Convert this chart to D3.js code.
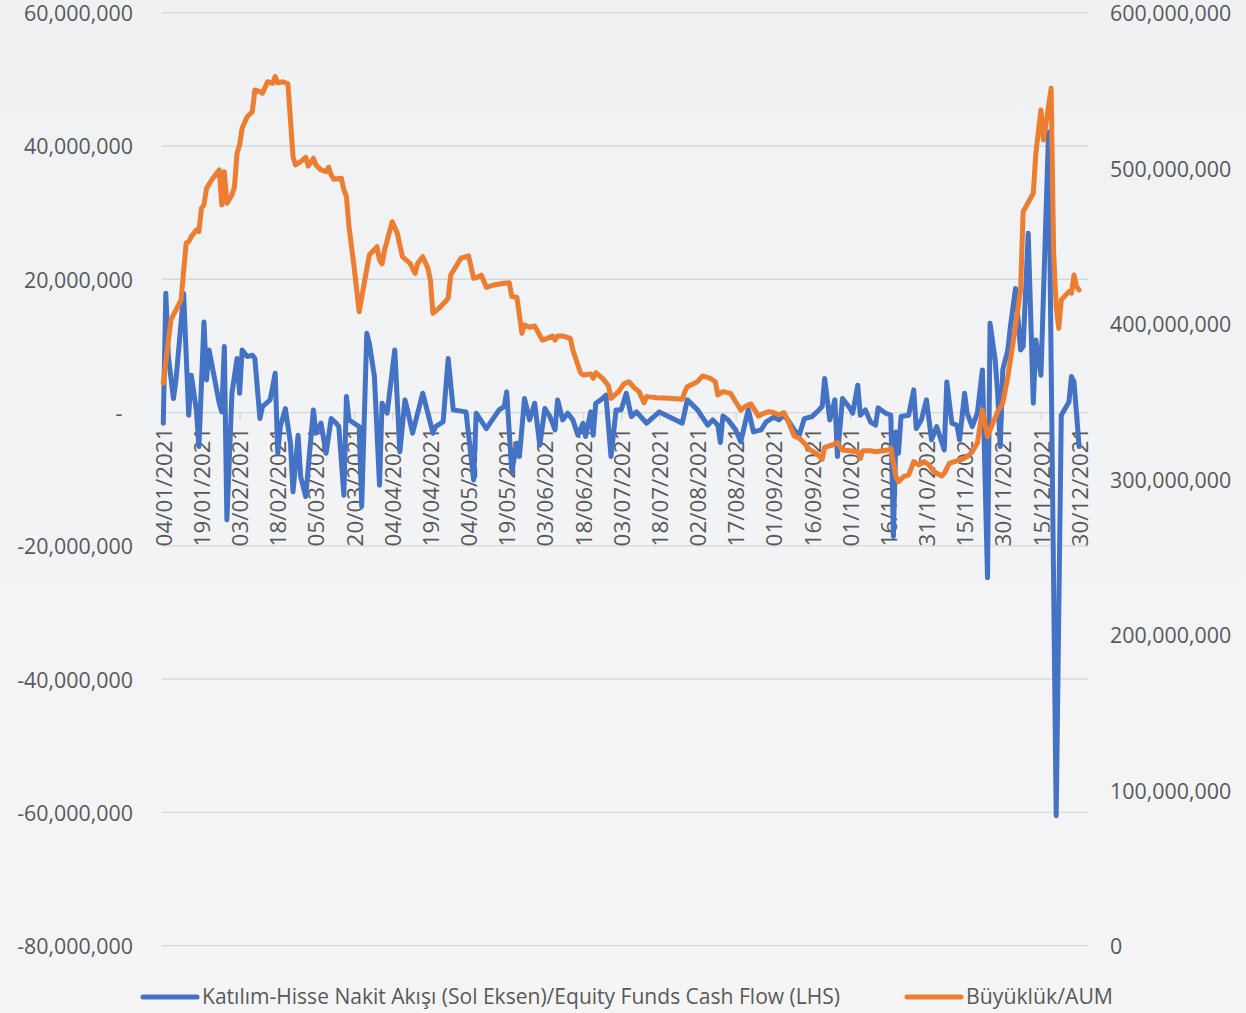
<!DOCTYPE html>
<html>
<head>
<meta charset="utf-8">
<script src="https://cdn.jsdelivr.net/npm/d3@7"></script>
<style>
	body { margin: 0; background: #f2f3f5; }
	svg { display: block; font-family: "Open Sans", sans-serif; }
</style>
</head>
<body>
<svg width="1246" height="1013"></svg>
<script>
// Katılım-Hisse nakit akışı, milyon TL (sol eksen)
const flowSeries = [
	["04/01", -1.6], ["05/01", 17.9], ["06/01", 8.4], ["08/01", 2.1], ["09/01", 4.9], ["12/01", 17.9],
	["14/01", -0.4], ["15/01", 5.6], ["17/01", 0.4], ["18/01", -5.1], ["20/01", 13.6], ["21/01", 4.9],
	["22/01", 9.4], ["24/01", 5.4], ["26/01", 1.4], ["27/01", 0.1], ["28/01", 9.9], ["29/01", -16.1],
	["31/01", 2.9], ["02/02", 8.1], ["03/02", 2.9], ["04/02", 9.4], ["06/02", 8.4], ["08/02", 8.6],
	["09/02", 8.1], ["11/02", -0.9], ["12/02", 0.9], ["15/02", 1.9], ["17/02", 5.9], ["18/02", -6.1],
	["19/02", -2.1], ["21/02", 0.6], ["23/02", -4.6], ["24/02", -11.9], ["26/02", -3.4], ["27/02", -9.6],
	["01/03", -12.6], ["04/03", 0.4], ["05/03", -3.1], ["07/03", -1.6], ["09/03", -6.1], ["11/03", -0.9],
	["13/03", -1.6], ["14/03", -2.1], ["16/03", -12.4], ["17/03", 2.4], ["18/03", -1.1], ["20/03", -1.6],
	["22/03", -2.1], ["23/03", -14.1], ["25/03", 11.9], ["26/03", 10.4], ["28/03", 5.4], ["30/03", -10.9],
	["31/03", 1.4], ["02/04", -0.1], ["05/04", 9.4], ["07/04", -5.9], ["09/04", 1.9], ["10/04", 0.4],
	["12/04", -3.1], ["16/04", 2.9], ["18/04", -0.1], ["20/04", -3.1], ["21/04", -2.1], ["24/04", -1.4],
	["26/04", 8.1], ["28/04", 0.4], ["03/05", 0.1], ["06/05", -10.1], ["07/05", -0.1], ["11/05", -2.4],
	["16/05", 0.4], ["18/05", 0.9], ["19/05", 3.1], ["21/05", -8.9], ["23/05", -4.6], ["24/05", -6.6],
	["26/05", 2.1], ["28/05", -1.1], ["30/05", 1.4], ["01/06", -4.9], ["03/06", 0.6], ["05/06", -0.6],
	["07/06", -2.6], ["08/06", 1.9], ["10/06", -1.1], ["12/06", -0.1], ["14/06", -1.1], ["16/06", -3.4],
	["18/06", -1.6], ["19/06", -3.6], ["21/06", 0.1], ["22/06", -3.4], ["23/06", 1.4], ["25/06", 1.9],
	["27/06", 2.6], ["29/06", -6.6], ["01/07", 0.4], ["03/07", 0.4], ["05/07", 2.9], ["07/07", -0.6],
	["09/07", 0.1], ["13/07", -1.6], ["18/07", 0.1], ["27/07", -1.6], ["29/07", 1.9], ["02/08", 0.4],
	["06/08", -1.9], ["08/08", -1.1], ["10/08", -1.9], ["11/08", -4.5], ["12/08", -0.5], ["14/08", -1.1],
	["17/08", -2.6], ["19/08", -4.4], ["21/08", -1.1], ["22/08", 0.4], ["24/08", -2.9], ["27/08", -2.6],
	["29/08", -1.4], ["01/09", -0.7], ["03/09", -1.1], ["05/09", -0.4], ["07/09", -1.4], ["09/09", -2.6],
	["11/09", -3.4], ["13/09", -0.9], ["16/09", -0.6], ["18/09", 0.1], ["20/09", 0.9], ["21/09", 5.1],
	["23/09", -1.1], ["25/09", 1.9], ["26/09", -6.6], ["28/09", 2.1], ["01/10", 0.6], ["02/10", -0.1],
	["04/10", 4.1], ["05/10", -0.4], ["07/10", 0.4], ["09/10", -1.4], ["11/10", -1.9], ["12/10", 0.7],
	["15/10", -0.1], ["17/10", -0.4], ["18/10", -18.6], ["19/10", -2.9], ["20/10", -6.1], ["21/10", -0.6],
	["24/10", -0.4], ["26/10", 3.4], ["27/10", -2.4], ["29/10", -1.1], ["31/10", 1.9], ["02/11", -4.1],
	["04/11", -2.1], ["07/11", -5.6], ["08/11", 4.6], ["10/11", -1.6], ["12/11", -1.9], ["13/11", -4.1],
	["15/11", 2.9], ["16/11", -0.1], ["18/11", -2.1], ["20/11", -0.1], ["22/11", 6.4], ["24/11", -24.8],
	["25/11", 13.4], ["27/11", 7.9], ["28/11", 2.9], ["29/11", -5.1], ["30/11", 6.4], ["02/12", 9.4],
	["03/12", 12.9], ["05/12", 18.6], ["07/12", 9.4], ["08/12", 9.9], ["10/12", 26.9], ["12/12", 1.4],
	["13/12", 10.9], ["15/12", 5.6], ["18/12", 42.1], ["21/12", -60.5], ["23/12", -0.4], ["26/12", 1.6],
	["27/12", 5.4], ["28/12", 4.6], ["30/12", -5.1]
];

// Büyüklük / AUM, milyon TL (sağ eksen)
const aumSeries = [
	["04/01", 361.7], ["07/01", 402.4], ["11/01", 415.3], ["13/01", 451.9], ["14/01", 452.7], ["15/01", 456.0],
	["17/01", 460.3], ["18/01", 459.2], ["19/01", 474.2], ["20/01", 476.4], ["21/01", 487.1], ["23/01", 492.4],
	["26/01", 498.9], ["27/01", 476.4], ["28/01", 497.8], ["29/01", 477.4], ["31/01", 482.8], ["01/02", 488.1],
	["02/02", 509.6], ["03/02", 514.9], ["04/02", 525.7], ["06/02", 533.1], ["08/02", 536.3], ["09/02", 550.3],
	["11/02", 549.2], ["12/02", 548.2], ["14/02", 555.6], ["16/02", 554.6], ["17/02", 558.9], ["18/02", 555.0],
	["20/02", 555.6], ["22/02", 554.2], ["23/02", 531.0], ["24/02", 507.4], ["25/02", 502.1], ["27/02", 504.2],
	["01/03", 507.0], ["02/03", 501.4], ["04/03", 506.4], ["05/03", 502.1], ["07/03", 498.9], ["09/03", 497.8],
	["10/03", 500.6], ["11/03", 495.6], ["12/03", 492.9], ["15/03", 493.5], ["16/03", 486.0], ["17/03", 481.7],
	["18/03", 462.4], ["20/03", 436.7], ["22/03", 407.7], ["24/03", 426.0], ["26/03", 444.2], ["29/03", 449.5],
	["30/03", 441.0], ["31/03", 438.4], ["01/04", 447.4], ["04/04", 465.6], ["06/04", 458.1], ["08/04", 443.1],
	["11/04", 438.8], ["13/04", 432.4], ["14/04", 438.8], ["16/04", 443.1], ["18/04", 435.6], ["19/04", 428.1],
	["20/04", 406.7], ["23/04", 410.9], ["26/04", 416.3], ["27/04", 431.3], ["29/04", 436.7], ["01/05", 442.1],
	["04/05", 443.6], ["06/05", 429.2], ["08/05", 430.2], ["09/05", 431.3], ["11/05", 423.4], ["14/05", 424.9],
	["18/05", 426.0], ["20/05", 426.4], ["21/05", 417.4], ["23/05", 417.0], ["25/05", 393.8], ["26/05", 399.2],
	["28/05", 397.7], ["30/05", 398.5], ["02/06", 389.5], ["04/06", 390.6], ["06/06", 392.1], ["07/06", 389.5],
	["08/06", 392.1], ["10/06", 392.1], ["13/06", 390.6], ["14/06", 383.1], ["17/06", 368.5], ["18/06", 367.0],
	["21/06", 367.7], ["22/06", 364.9], ["23/06", 368.5], ["26/06", 364.3], ["28/06", 359.9], ["29/06", 352.0],
	["02/07", 356.3], ["04/07", 361.2], ["06/07", 362.7], ["08/07", 359.1], ["10/07", 356.3], ["12/07", 349.2],
	["13/07", 353.1], ["17/07", 352.4], ["22/07", 352.0], ["27/07", 351.4], ["28/07", 356.3], ["29/07", 359.5],
	["02/08", 362.7], ["04/08", 366.4], ["07/08", 364.9], ["09/08", 362.7], ["10/08", 354.2], ["12/08", 356.3],
	["15/08", 355.2], ["17/08", 349.8], ["19/08", 344.5], ["21/08", 347.1], ["23/08", 348.4], ["26/08", 340.6],
	["28/08", 342.4], ["30/08", 343.4], ["01/09", 342.8], ["03/09", 341.3], ["05/09", 342.8], ["07/09", 336.0],
	["09/09", 327.8], ["11/09", 326.3], ["13/09", 323.1], ["15/09", 319.2], ["18/09", 316.2], ["20/09", 312.8],
	["21/09", 320.5], ["24/09", 322.0], ["26/09", 323.5], ["28/09", 318.8], ["01/10", 318.3], ["04/10", 317.7],
	["05/10", 313.4], ["06/10", 318.3], ["09/10", 318.3], ["11/10", 317.7], ["16/10", 318.8], ["17/10", 319.9],
	["19/10", 301.6], ["20/10", 298.4], ["22/10", 301.6], ["24/10", 302.7], ["26/10", 311.3], ["28/10", 309.1],
	["30/10", 311.3], ["01/11", 309.1], ["03/11", 304.8], ["06/11", 302.1], ["07/11", 303.8], ["09/11", 310.2],
	["11/11", 311.3], ["14/11", 312.8], ["16/11", 314.5], ["18/11", 317.7], ["20/11", 323.1], ["22/11", 344.5],
	["24/11", 327.3], ["26/11", 335.9], ["28/11", 343.4], ["30/11", 348.8], ["02/12", 365.9], ["04/12", 387.4],
	["07/12", 421.7], ["08/12", 472.0], ["12/12", 483.9], ["13/12", 509.6], ["15/12", 537.4], ["16/12", 518.1],
	["17/12", 528.9], ["19/12", 551.4], ["20/12", 445.3], ["21/12", 410.9], ["22/12", 397.0], ["23/12", 415.3],
	["26/12", 420.6], ["27/12", 419.6], ["28/12", 431.3], ["29/12", 423.8], ["30/12", 421.7]
];

const leftTicks = [60e6, 40e6, 20e6, 0, -20e6, -40e6, -60e6, -80e6];
const rightTicks = [600e6, 500e6, 400e6, 300e6, 200e6, 100e6, 0];
const dateTicks = ["04/01", "19/01", "03/02", "18/02", "05/03", "20/03", "04/04", "19/04", "04/05",
	"19/05", "03/06", "18/06", "03/07", "18/07", "02/08", "17/08", "01/09", "16/09", "01/10",
	"16/10", "31/10", "15/11", "30/11", "15/12", "30/12"];
const seriesNames = ["Katılım-Hisse Nakit Akışı (Sol Eksen)/Equity Funds Cash Flow (LHS)", "Büyüklük/AUM"];
const seriesColors = ["#4472c4", "#ed7d31"];

const parseDate = d3.timeParse("%d/%m/%Y");
const toDate = s => parseDate(`${s}/2021`);

const svg = d3.select("svg");
const plot = { left: 162, right: 1088, top: 12.7, bottom: 945.7 };

// arka plan
const grad = svg.append("defs").append("linearGradient")
	.attr("id", "bg")
	.attr("x1", 0).attr("y1", 0).attr("x2", 0).attr("y2", 1);
grad.append("stop").attr("offset", "0%").attr("stop-color", "#f0f1f3");
grad.append("stop").attr("offset", "100%").attr("stop-color", "#f5f5f6");
svg.append("rect")
	.attr("width", 1246)
	.attr("height", 1013)
	.attr("fill", "url(#bg)");

const start = d3.timeHour.offset(toDate("04/01"), -12);
const x = d3.scaleTime()
	.domain([start, d3.timeDay.offset(start, 364)])
	.range([plot.left, plot.right]);
const yLeft = d3.scaleLinear().domain([-80e6, 60e6]).range([plot.bottom, plot.top]);
const yRight = d3.scaleLinear().domain([0, 600e6]).range([plot.bottom, plot.top]);

const textColor = "#595959";
const gridColor = "#d6d7d9";

// yatay ızgara
svg.append("g")
	.selectAll("line")
	.data(leftTicks)
	.join("line")
	.attr("x1", plot.left)
	.attr("x2", plot.right)
	.attr("y1", d => yLeft(d))
	.attr("y2", d => yLeft(d))
	.attr("stroke", gridColor)
	.attr("stroke-width", 1.3);

const locale = d3.formatLocale({ decimal: ".", thousands: ",", grouping: [3], currency: ["", ""], minus: "-" });
const fmt = locale.format(",");

const gLeft = svg.append("g")
	.attr("transform", "translate(133,0)")
	.call(d3.axisLeft(yLeft).tickValues(leftTicks).tickSize(0).tickPadding(0)
		.tickFormat(d => d === 0 ? "-\u2002" : fmt(d)));
gLeft.select(".domain").remove();

const gRight = svg.append("g")
	.attr("transform", "translate(1110,0)")
	.call(d3.axisRight(yRight).tickValues(rightTicks).tickSize(0).tickPadding(0)
		.tickFormat(d => fmt(d)));
gRight.select(".domain").remove();

svg.selectAll(".tick text")
	.attr("fill", textColor)
	.attr("font-size", 21.4)
	.attr("dy", "0.37em")
	.attr("font-family", "Open Sans, sans-serif");

const gX = svg.append("g")
	.attr("transform", `translate(0,${yLeft(0)})`)
	.call(d3.axisBottom(x).tickValues(dateTicks.map(toDate)).tickSize(8)
		.tickFormat(d3.timeFormat("%d/%m/%Y")));
gX.select(".domain").remove();
gX.selectAll(".tick line").attr("stroke", gridColor).attr("stroke-width", 1.3);
gX.selectAll(".tick text")
	.attr("transform", "rotate(-90)")
	.attr("text-anchor", "end")
	.attr("x", -15)
	.attr("y", 0)
	.attr("dy", "0.36em")
	.attr("fill", textColor)
	.attr("font-size", 22.4)
	.attr("font-family", "Open Sans, sans-serif");

const lineFlow = d3.line()
	.x(d => x(toDate(d[0])))
	.y(d => yLeft(d[1] * 1e6));

const lineAum = d3.line()
	.x(d => x(toDate(d[0])))
	.y(d => yRight(d[1] * 1e6));

svg.append("path")
	.datum(flowSeries)
	.attr("fill", "none")
	.attr("stroke", seriesColors[0])
	.attr("stroke-width", 5)
	.attr("stroke-linejoin", "round")
	.attr("stroke-linecap", "round")
	.attr("d", lineFlow);

svg.append("path")
	.datum(aumSeries)
	.attr("fill", "none")
	.attr("stroke", seriesColors[1])
	.attr("stroke-width", 5)
	.attr("stroke-linejoin", "round")
	.attr("stroke-linecap", "round")
	.attr("d", lineAum);

// lejant
const legendItems = [
	{ x: 143, len: 638 },
	{ x: 907, len: 147 }
];
const legend = svg.append("g").attr("transform", "translate(0,997)");
legend.selectAll("line")
	.data(legendItems)
	.join("line")
	.attr("x1", d => d.x)
	.attr("x2", d => d.x + 54)
	.attr("stroke", (d, i) => seriesColors[i])
	.attr("stroke-width", 5)
	.attr("stroke-linecap", "round");
legend.selectAll("text")
	.data(legendItems)
	.join("text")
	.attr("x", d => d.x + 59)
	.attr("dy", "0.35em")
	.attr("fill", textColor)
	.attr("font-size", 21)
	.attr("textLength", d => d.len)
	.attr("lengthAdjust", "spacingAndGlyphs")
	.text((d, i) => seriesNames[i]);
</script>
</body>
</html>
